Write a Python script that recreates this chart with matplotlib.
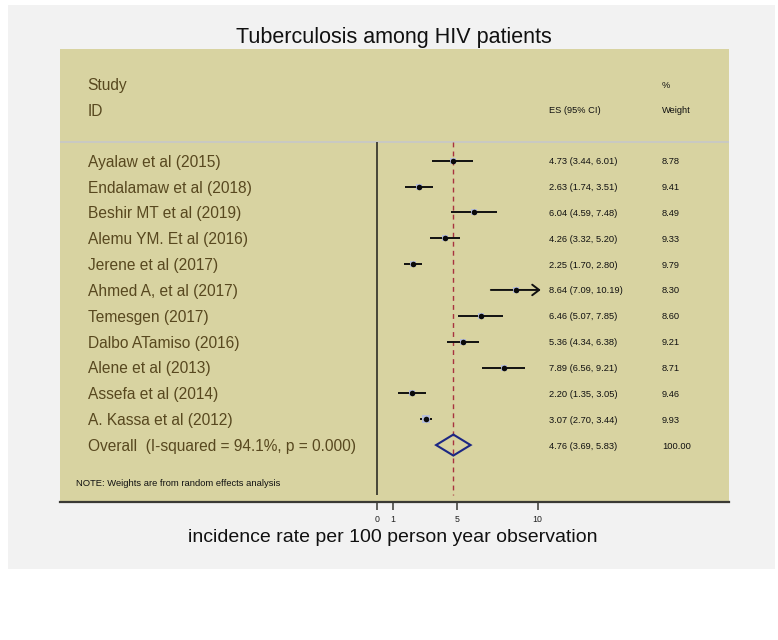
import matplotlib
matplotlib.use("Agg")
import matplotlib.pyplot as plt
from matplotlib import font_manager as fm
from matplotlib.patches import Rectangle, Polygon

# ---------------- data ----------------
studies = ["Ayalaw et al (2015)", "Endalamaw et al (2018)", "Beshir MT et al (2019)",
           "Alemu YM. Et al (2016)", "Jerene et al (2017)", "Ahmed A, et al (2017)",
           "Temesgen (2017)", "Dalbo ATamiso (2016)", "Alene et al (2013)",
           "Assefa et al (2014)", "A. Kassa et al (2012)"]
es = [4.73, 2.63, 6.04, 4.26, 2.25, 8.64, 6.46, 5.36, 7.89, 2.20, 3.07]
lo = [3.44, 1.74, 4.59, 3.32, 1.70, 7.09, 5.07, 4.34, 6.56, 1.35, 2.70]
hi = [6.01, 3.51, 7.48, 5.20, 2.80, 10.19, 7.85, 6.38, 9.21, 3.05, 3.44]
weights = [8.78, 9.41, 8.49, 9.33, 9.79, 8.30, 8.60, 9.21, 8.71, 9.46, 9.93]
overall_es, overall_lo, overall_hi, overall_w = 4.76, 3.69, 5.83, 100.00
overall_label = "Overall  (I-squared = 94.1%, p = 0.000)"
xticks = [0, 1, 5, 10]
axis_max = 10

title = "Tuberculosis among HIV patients"
xlabel = "incidence rate per 100 person year observation"
note = "NOTE: Weights are from random effects analysis"

# ---------------- fonts ----------------
def has_font(name):
    try:
        fm.findfont(fm.FontProperties(family=name), fallback_to_default=False)
        return True
    except Exception:
        return False

REG = "Liberation Sans" if has_font("Liberation Sans") else "DejaVu Sans"
SMALL = "Liberation Sans Narrow" if has_font("Liberation Sans Narrow") else REG

W, H = 778, 640
fig = plt.figure(figsize=(W / 100, H / 100), dpi=100)
fig.patch.set_facecolor("white")
renderer = fig.canvas.get_renderer()


def fit_size(s, family, target_px, ref=10.0):
    w, _, _ = renderer.get_text_width_height_descent(
        s, fm.FontProperties(family=family, size=ref), ismath=False)
    return ref * target_px / w


SMALL_SIZE = fit_size("4.73 (3.44, 6.01)", SMALL, 68)
NOTE_SIZE = fit_size(note, SMALL, 204)
LBL_SIZE = fit_size("Ayalaw et al (2015)", REG, 133)
TITLE_SIZE = fit_size(title, REG, 317)
XLAB_SIZE = fit_size(xlabel, REG, 409)

# grey graph region
bg = Rectangle((8 / W, 1 - 569 / H), (775 - 8) / W, (569 - 5) / H,
               transform=fig.transFigure, facecolor="#f2f2f2",
               edgecolor="none", zorder=-10)
fig.patches.append(bg)

PL, PR, PT, PB = 60, 729, 49, 502
ax = fig.add_axes([PL / W, 1 - PB / H, (PR - PL) / W, (PB - PT) / H])
ax.set_zorder(1)
ax.set_facecolor("#d8d3a1")

X0, SCALE = 376.7, 16.1  # pixel of x=0, pixels per unit


def px2x(px):
    return (px - X0) / SCALE


ax.set_xlim(px2x(PL), px2x(PR))
ax.set_ylim(PB, PT)

for s in ["top", "left", "right"]:
    ax.spines[s].set_visible(False)
ax.spines["bottom"].set_color("#3a3a34")
ax.spines["bottom"].set_linewidth(1.6)
ax.set_yticks([])
ax.set_xticks(xticks)
ax.set_xticklabels([str(t) for t in xticks], fontfamily=SMALL, fontsize=SMALL_SIZE * 0.95)
ax.tick_params(axis="x", direction="out", length=5.5, width=1.1, color="#3a3a34",
               pad=4.0, labelcolor="#222222")

# rows
ROW0, ROWSTEP = 160.7, 25.85
rows = [ROW0 + ROWSTEP * i for i in range(len(studies))]
y_overall = ROW0 + ROWSTEP * len(studies)

LABEL_COL = "#58481f"
label_x = px2x(87.7)
es_x = px2x(549)
w_x = px2x(662)

# header
ax.text(label_x, 85.5, "Study", fontfamily=REG, fontsize=LBL_SIZE, color=LABEL_COL, va="center")
ax.text(label_x, 111.5, "ID", fontfamily=REG, fontsize=LBL_SIZE, color=LABEL_COL, va="center")
ax.text(w_x, 85.0, "%", fontfamily=SMALL, fontsize=SMALL_SIZE, color="#111111", va="center")
ax.text(w_x, 110.5, "Weight", fontfamily=SMALL, fontsize=SMALL_SIZE, color="#111111", va="center")
ax.text(es_x, 110.5, "ES (95% CI)", fontfamily=SMALL, fontsize=SMALL_SIZE, color="#111111", va="center")

# separator line
ax.axhline(141.7, color="#c9c9c3", lw=1.4, zorder=1)

# reference lines
line_top, line_bot = 142, 495
ax.plot([0, 0], [line_top, line_bot], color="#262620", lw=1.15, zorder=2, solid_capstyle="butt")
ax.plot([overall_es, overall_es], [line_top, line_bot], color="#a8323f", lw=1.0,
        dashes=(3.5, 3.0), zorder=2)

# studies
for name, e, l, h, w, y in zip(studies, es, lo, hi, weights, rows):
    ax.text(label_x, y + 1.5, name, fontfamily=REG, fontsize=LBL_SIZE, color=LABEL_COL, va="center")
    ax.text(es_x, y + 1.0, f"{e:.2f} ({l:.2f}, {h:.2f})", fontfamily=SMALL,
            fontsize=SMALL_SIZE, color="#111111", va="center")
    ax.text(w_x, y + 1.0, f"{w:.2f}", fontfamily=SMALL, fontsize=SMALL_SIZE,
            color="#111111", va="center")
    if h > axis_max:
        ax.annotate("", xy=(h, y), xytext=(l, y),
                    arrowprops=dict(arrowstyle="->,head_length=0.5,head_width=0.38",
                                    color="#111111", lw=1.4, shrinkA=0, shrinkB=0),
                    zorder=3)
    else:
        ax.plot([l, h], [y, y], color="#111111", lw=1.4, zorder=3, solid_capstyle="butt")
    ax.plot([e], [y], marker="s", ms=4.8 * (w / 9.0) ** 0.5, color="#b8bfd9",
            markeredgewidth=0, zorder=3.5)
    ax.plot([e], [y], marker="o", ms=4.0, color="#0a0a0a", markeredgewidth=0, zorder=4)

# overall
ax.text(label_x, y_overall + 1.5, overall_label, fontfamily=REG, fontsize=LBL_SIZE,
        color=LABEL_COL, va="center")
ax.text(es_x, y_overall + 1.0, f"{overall_es:.2f} ({overall_lo:.2f}, {overall_hi:.2f})",
        fontfamily=SMALL, fontsize=SMALL_SIZE, color="#111111", va="center")
ax.text(w_x, y_overall + 1.0, f"{overall_w:.2f}", fontfamily=SMALL, fontsize=SMALL_SIZE,
        color="#111111", va="center")
half_h = 10.5
ax.add_patch(Polygon([(overall_lo, y_overall), (overall_es, y_overall - half_h),
                      (overall_hi, y_overall), (overall_es, y_overall + half_h)],
                     closed=True, facecolor="none", edgecolor="#1c2783", lw=1.5, zorder=4))

# note
ax.text(px2x(75.5), 483.5, note, fontfamily=SMALL, fontsize=NOTE_SIZE, color="#111111",
        va="center")

# titles
fig.text(393.5 / W, 1 - 43 / H, title, ha="center", va="baseline", fontfamily=REG,
         fontsize=TITLE_SIZE, color="#111111", zorder=5)
fig.text(392.5 / W, 1 - 541.5 / H, xlabel, ha="center", va="baseline", fontfamily=REG,
         fontsize=XLAB_SIZE, color="#111111", zorder=5)

fig.savefig("out.png", dpi=100, facecolor=fig.get_facecolor())
